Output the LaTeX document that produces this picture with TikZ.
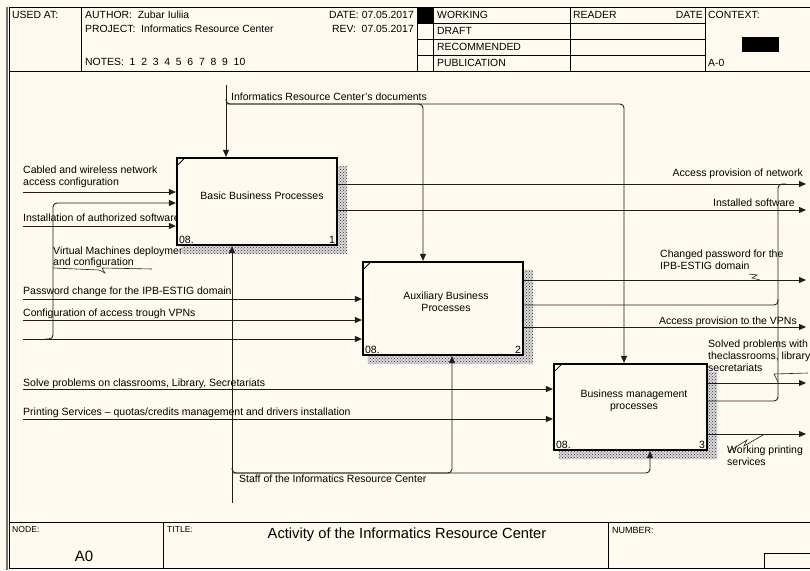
\documentclass[tikz,border=0pt]{standalone}
\usepackage{fontspec}
\setmainfont{Liberation Sans}
\usetikzlibrary{arrows.meta,positioning,patterns,calc}
\definecolor{IdefPaper}{HTML}{FFFAF0}
\definecolor{IdefInk}{HTML}{1E1E1E}
\definecolor{IdefRule}{HTML}{707070}

\begin{document}
\begin{tikzpicture}[x=1pt,y=-1pt,
  flow/.style={draw=IdefInk,line width=0.9pt,-{Triangle[length=7pt,width=6pt]}},
  pipe/.style={draw=IdefInk,line width=0.9pt,rounded corners=4pt},
  act/.style={draw=black,line width=2.2pt,fill=IdefPaper,inner sep=0pt},
  lbl/.style={inner sep=0pt,font=\fontsize{10.5}{11.6}\selectfont,align=left},
  hdr/.style={inner sep=0pt,font=\fontsize{10.4}{11}\selectfont,anchor=base west}]
\useasboundingbox (0,0) rectangle (810,570);
\fill[IdefPaper] (0,0) rectangle (810,570);
\draw[IdefRule,line width=1.6pt] (7,7) -- (7,570);
\draw[line width=0.8pt] (9.5,7) -- (9.5,568);
\draw[line width=0.9pt] (9,7) -- (810,7) (9,71) -- (810,71);
\draw[line width=0.9pt] (81,7) -- (81,71) (417,7) -- (417,71) (433,7) -- (433,71)
  (570,7) -- (570,71) (705,7) -- (705,71);
\foreach \y in {23,39,55} \draw[line width=0.9pt] (417,\y) -- (705,\y);
\fill (417,7) rectangle (433,23);
\fill (742,37) rectangle (779,52);
\node[hdr] (usedat) at (12,18.5) {USED AT:};
\node[hdr] (author) at (85,18.5) {AUTHOR:\ \ Zubar Iuliia};
\node[hdr] (project) at (85,32.5) {PROJECT:\ \ Informatics Resource Center};
\node[hdr] (notes) at (85,65.5) {NOTES:\ \ 1\ \ 2\ \ 3\ \ 4\ \ 5\ \ 6\ \ 7\ \ 8\ \ 9\ \ 10};
\node[hdr,anchor=base east] (date) at (414,18.5) {DATE: 07.05.2017};
\node[hdr,anchor=base east] (rev) at (414,32.5) {REV:\ \ 07.05.2017};
\foreach \t/\y [count=\i] in {WORKING/18.5,DRAFT/34.5,RECOMMENDED/50.5,PUBLICATION/66}
  \node[hdr] (st\i) at (437,\y) {\t};
\node[hdr] (reader) at (573,18.5) {READER};
\node[hdr,anchor=base east] (rdate) at (703,18.5) {DATE};
\node[hdr] (context) at (708,18.5) {CONTEXT:};
\node[hdr] (ctxid) at (708,66) {A-0};

\draw[line width=0.9pt] (9,522) -- (810,522) (9,568) -- (810,568)
  (163,522) -- (163,568) (608,522) -- (608,568);
\draw[line width=0.9pt] (764,568) |- (810,553);
\node[hdr,font=\fontsize{8.6}{10}\selectfont] (nodehd) at (12,532) {NODE:};
\node[inner sep=0pt,font=\fontsize{15}{17}\selectfont] (nodeid) at (84,556) {A0};
\node[hdr,font=\fontsize{8.6}{10}\selectfont] (titlehd) at (167,532) {TITLE:};
\node[inner sep=0pt,font=\fontsize{14.7}{17}\selectfont] (title) at (407,535) {Activity of the Informatics Resource Center};
\node[hdr,font=\fontsize{9}{10}\selectfont] (numhd) at (612,533) {NUMBER:};

\node[lbl,anchor=north west] (lcab) at (23,166) {Cabled and wireless network\\access configuration};
\node[lbl,anchor=base west] (linst) at (23,221.5) {Installation of authorized software};
\node[lbl,anchor=north west] (lvm) at (53,246.5) {Virtual Machines deployment\\and configuration};
\node[lbl,anchor=base west] (lpwd) at (23,294.5) {Password change for the IPB-ESTIG domain};
\node[lbl,anchor=base west] (lvpn) at (23,316.5) {Configuration of access trough VPNs};
\node[lbl,anchor=base west] (lsolve) at (23,386.5) {Solve problems on classrooms, Library, Secretariats};
\node[lbl,anchor=base west] (lprint) at (23,415.5) {Printing Services – quotas/credits management and drivers installation};
\node[lbl,anchor=base west] (ldocs) at (231,100.5) {Informatics Resource Center's documents};
\node[lbl,anchor=base west] (lstaff) at (239,482.5) {Staff of the Informatics Resource Center};
\node[lbl,anchor=base east] (lo1) at (803,176.5) {Access provision of network};
\node[lbl,anchor=base east] (lo2) at (795,206.5) {Installed software};
\node[lbl,anchor=north west] (lo3) at (660,250) {Changed password for the\\IPB-ESTIG domain};
\node[lbl,anchor=base east] (lo4) at (797,324.5) {Access provision to the VPNs};
\node[lbl,anchor=north west] (lo5) at (708,340) {Solved problems with\\theclassrooms, library\\secretariats};
\node[lbl,anchor=north west] (lo6) at (727,446) {Working printing\\services};

\node[act,minimum width=160pt,minimum height=87pt] (bbp) at (257,201.5) {};
\node[act,minimum width=160pt,minimum height=93pt] (abp) at (443,308.5) {};
\node[act,minimum width=153pt,minimum height=86pt] (bmp) at (630.5,407) {};
\foreach \b/\n in {bbp/1,abp/2,bmp/3}{
  \fill[preaction={fill=black!15},pattern=crosshatch dots,pattern color=black!80] (\b.north east) ++(0,9) -- ++(9,0)
    |- ($(\b.south west)+(6,8)$) -- ($(\b.south west)+(6,0)$) -- (\b.south east) -- cycle;
  \draw[line width=0.8pt] ($(\b.north west)+(2,8)$) -- ($(\b.north west)+(8,2)$);
  \node[lbl,anchor=south west] (\b-c) at ($(\b.south west)+(3,-2)$) {08.};
  \node[lbl,anchor=south east] (\b-n) at ($(\b.south east)+(-3,-2)$) {\n};
}
\node[lbl,align=center] (bbpt) at (262,196) {Basic Business Processes};
\node[lbl,align=center] (abpt) at (446,302) {Auxiliary Business\\Processes};
\node[lbl,align=center] (bmpt) at (634,401) {Business management\\processes};

\foreach \y/\b [count=\i] in {192/bbp,226/bbp,299/abp,320/abp,339/abp,389/bmp,419/bmp}{
  \coordinate (in\i) at (23,\y);
  \draw[flow] (in\i) -- (in\i -| \b.west);
}
\foreach \y/\b [count=\i] in {184/bbp,210/bbp,280/abp,327/abp,383/bmp,434/bmp}{
  \coordinate (out\i) at (806,\y);
  \draw[flow] (out\i -| \b.east) -- (out\i);
}

\coordinate (docs) at (226,85);
\coordinate (docbus) at (226,104);
\coordinate (docb2) at (423,104);
\coordinate (docb3) at (624,104);
\draw[flow] (docs) -- (docs |- bbp.north);
\draw[flow,rounded corners=4pt] ($(docbus)+(0,-5)$) -- (docbus) -- (docb3) -- (docb3 |- bmp.north);
\draw[flow,rounded corners=4pt] (docbus) -- (docb2) -- (docb2 |- abp.north);

\coordinate (staff) at (232,503);
\coordinate (staffbus) at (232,473);
\coordinate (staffb2) at (452,473);
\coordinate (staffb3) at (650,473);
\draw[flow] (staff) -- (staff |- bbp.south);
\draw[flow,rounded corners=4pt] ($(staffbus)+(0,-5)$) -- (staffbus) -- (staffb3) -- (staffb3 |- bmp.south);
\draw[flow,rounded corners=4pt] (staffbus) -- (staffb2) -- (staffb2 |- abp.south);

\coordinate (vmtap) at (45,339);
\coordinate (vmup) at (53,203);
\draw[flow,rounded corners=4pt] (vmtap) -| (vmup) -- (vmup -| bbp.west);

\coordinate (mrg) at (778,184);
\coordinate (mrg2) at (778,305);
\coordinate (mrg3) at (778,401);
\draw[pipe] (mrg3 -| bmp.east) -- (mrg3) -- (mrg) -- ++(8,0);
\draw[pipe] (mrg2 -| abp.east) -- (mrg2) -- ++(0,-6);

\draw[IdefInk,line width=0.6pt] (53,268) -- (99,270) -- (105,273) -- (102,268) -- (152,269);
\draw[IdefInk,line width=0.6pt] (749,274) -- (757,275) -- (752,278) -- (760,280);
\draw[IdefInk,line width=0.6pt] (808,373) -- (774,374) -- (778,382);
\draw[IdefInk,line width=0.6pt] (728,452) -- (747,440) -- (744,446) -- (763,435);
\end{tikzpicture}
\end{document}
